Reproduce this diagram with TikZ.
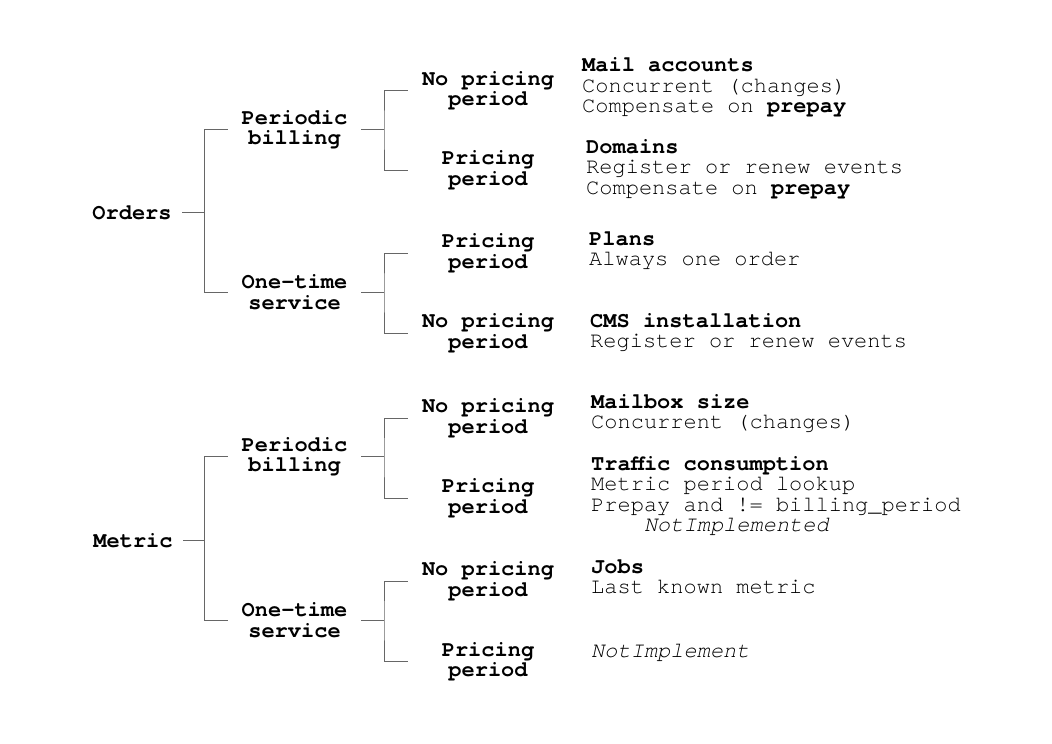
\documentclass[tikz,border=0pt]{standalone}
\usepackage{fontspec}
\setmainfont{TeX Gyre Cursor}
\begin{document}
\begin{tikzpicture}[x=1pt,y=-1pt,
  cat/.style={font=\fontsize{22}{20.5}\selectfont\bfseries,inner sep=0pt,align=center},
  rootn/.style={cat,minimum width=100pt},
  midn/.style={cat,minimum width=133pt},
  leafn/.style={cat,minimum width=160pt},
  info/.style={font=\fontsize{22}{20.5}\selectfont,inner sep=0pt,align=left,anchor=north west},
  conn/.style={draw=black!60,line width=1pt}]
\path[use as bounding box,fill=white] (0,0) rectangle (1052,744);

% ---------- Orders tree ----------
\node[rootn] (orders) at (132,212.7) {Orders};
\node[midn] (pb1) at (294.5,129.7) {Periodic\\billing};
\node[midn] (ot1) at (294.5,292.3) {One-time\\service};
\node[leafn] (l1) at (488,90.7) {No pricing\\period};
\node[leafn] (l2) at (488,170) {Pricing\\period};
\node[leafn] (l3) at (488,253.3) {Pricing\\period};
\node[leafn] (l4) at (488,333.3) {No pricing\\period};
\coordinate (j0) at (204.7,212.7);
\coordinate (j1) at (384,129.7);
\coordinate (j2) at (384,292.3);
\draw[conn] (orders.east) -- (j0);
\draw[conn] (pb1.west) -| (j0) |- (ot1.west);
\draw[conn] (pb1.east) -- (j1);
\draw[conn] (l1.west) -| (j1) |- (l2.west);
\draw[conn] (ot1.east) -- (j2);
\draw[conn] (l3.west) -| (j2) |- (l4.west);

% ---------- Metric tree ----------
\node[rootn] (metric) at (133,540.7) {Metric};
\node[midn] (pb2) at (294.5,456.7) {Periodic\\billing};
\node[midn] (ot2) at (294.5,620) {One-time\\service};
\node[leafn] (m1) at (488,418.3) {No pricing\\period};
\node[leafn] (m2) at (488,498.3) {Pricing\\period};
\node[leafn] (m3) at (488,581) {No pricing\\period};
\node[leafn] (m4) at (488,661.7) {Pricing\\period};
\coordinate (k0) at (204.7,540.7);
\coordinate (k1) at (384,456.7);
\coordinate (k2) at (384,620);
\draw[conn] (metric.east) -- (k0);
\draw[conn] (pb2.west) -| (k0) |- (ot2.west);
\draw[conn] (pb2.east) -- (k1);
\draw[conn] (m1.west) -| (k1) |- (m2.west);
\draw[conn] (ot2.east) -- (k2);
\draw[conn] (m3.west) -| (k2) |- (m4.west);

% ---------- descriptions ----------
\node[info] (dA) at (582,71.7-14.35) {\strut\textbf{Mail accounts}\\Concurrent (changes)\\Compensate on \textbf{prepay}};
\node[info] (dB) at (586,153-14.35) {\strut\textbf{Domains}\\Register or renew events\\Compensate on \textbf{prepay}};
\node[info] (dC) at (589,245-14.35) {\strut\textbf{Plans}\\Always one order};
\node[info] (dD) at (590,327-14.35) {\strut\textbf{CMS installation}\\Register or renew events};
\node[info] (dE) at (591,408-14.35) {\strut\textbf{Mailbox size}\\Concurrent (changes)};
\node[info] (dF) at (591,470-14.35) {\strut\textbf{Traffic consumption}\\Metric period lookup\\Prepay and != billing\_period\\\phantom{Prep}\textit{NotImplemented}};
\node[info] (dG) at (591,573-14.35) {\strut\textbf{Jobs}\\Last known metric};
\node[info] (dH) at (591,657-14.35) {\strut\textit{NotImplement}};
\end{tikzpicture}
\end{document}
